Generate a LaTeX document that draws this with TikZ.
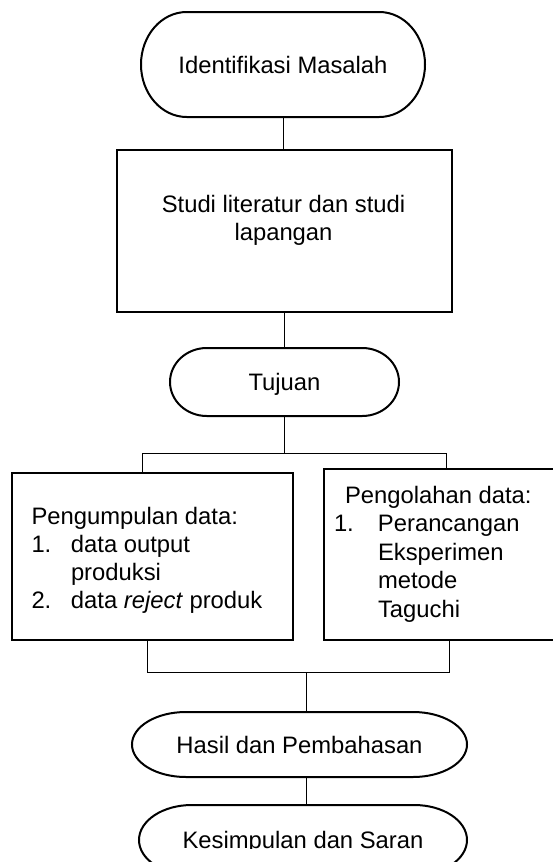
\documentclass[tikz,border=0pt]{standalone}
\usepackage{fontspec}
\setmainfont{Liberation Sans}
\begin{document}
\newcommand\termline[3]{%
  \draw[shapeline] ([xshift=#2pt]#1.north west) -- ([xshift=-#2pt]#1.north east)
    arc[start angle=90,end angle=-90,x radius=#2pt,y radius=#3pt]
    -- ([xshift=#2pt]#1.south west)
    arc[start angle=270,end angle=90,x radius=#2pt,y radius=#3pt] -- cycle;}
\begin{tikzpicture}[x=1pt,y=1pt,
  every node/.style={outer sep=0pt,inner sep=0pt},
  shapeline/.style={line width=2pt,draw=black},
  boxshape/.style={draw=black,line width=2pt,rectangle},
  termnode/.style={draw=none,rectangle,font=\fontsize{23.8}{28}\selectfont,text height=17pt,text depth=0pt},
  bodytext/.style={font=\fontsize{23.8}{28}\selectfont},
  conn/.style={line width=1pt,draw=black}]
\useasboundingbox (0,0) rectangle (553,-862);
\fill[white] (0,0) rectangle (553,-862);
\clip (0,0) rectangle (553,-862);

% terminators
\node[termnode, minimum width=284, minimum height=105] (t1) at (283,-64.5) {Identifikasi Masalah};
\termline{t1}{45.7}{52.5}
\node[termnode, minimum width=229, minimum height=68] (t2) at (284.5,-382) {Tujuan};
\termline{t2}{36.8}{34}
\node[termnode, minimum width=335, minimum height=65] (t3) at (299.5,-744.5) {Hasil dan Pembahasan};
\termline{t3}{53.9}{32.5}
\node[termnode, minimum width=328, minimum height=70] (t4) at (303,-840) {};
\termline{t4}{52.8}{35}
\begin{scope}
  \clip (100,-790) rectangle (500,-848);
  \node[termnode] (t4text) at (t4.center) {Kesimpulan dan Saran};
\end{scope}

% boxes
\node[boxshape, minimum width=335, minimum height=162] (studi) at (284,-231) {};
\node[bodytext, anchor=base] (studitext) at (283.5,-212)
  {\begin{tabular}[t]{@{}c@{}}Studi literatur dan studi\\ lapangan\end{tabular}};
\node[boxshape, minimum width=281, minimum height=167] (kiri) at (152.5,-556.5) {};
\node[bodytext, anchor=base west] (kiritext) at (31.5,-524)
  {\begin{tabular}[t]{@{}l@{}l@{}}
   \multicolumn{2}{@{}l@{}}{Pengumpulan data:}\\
   \makebox[39.5pt][l]{1.} & data output\\
   & produksi\\
   \makebox[39.5pt][l]{2.} & data \textit{reject} produk
   \end{tabular}};
\node[boxshape, minimum width=250, minimum height=171] (kanan) at (449,-554.5) {};
\node[bodytext, anchor=base west] (kanantext) at (334,-503)
  {\fontsize{23.8}{28.5}\selectfont\begin{tabular}[t]{@{}l@{}l@{}}
   \multicolumn{2}{@{}l@{}}{\hspace*{11pt}Pengolahan data:}\\
   \makebox[44pt][l]{1.} & Perancangan\\
   & Eksperimen\\
   & metode\\
   & Taguchi
   \end{tabular}};

% connectors
\coordinate (jtop) at (284,-453);
\coordinate (jl) at (142,-453);
\coordinate (jr) at (446,-453);
\coordinate (bl) at (147,-672);
\coordinate (br) at (449,-672);
\coordinate (bm) at (306,-672);
\draw[conn] (t1.south) -- (t1.south |- studi.north);
\draw[conn] (studi.south) -- (studi.south |- t2.north);
\draw[conn] (t2.south) -- (t2.south |- jtop);
\draw[conn] (jl |- kiri.north) -- (jl) -- (jr) -- (jr |- kanan.north);
\draw[conn] (bl |- kiri.south) -- (bl) -- (br) -- (br |- kanan.south);
\draw[conn] (bm) -- (bm |- t3.north);
\draw[conn] (t3.south -| bm) -- (bm |- t4.north);
\end{tikzpicture}
\end{document}
